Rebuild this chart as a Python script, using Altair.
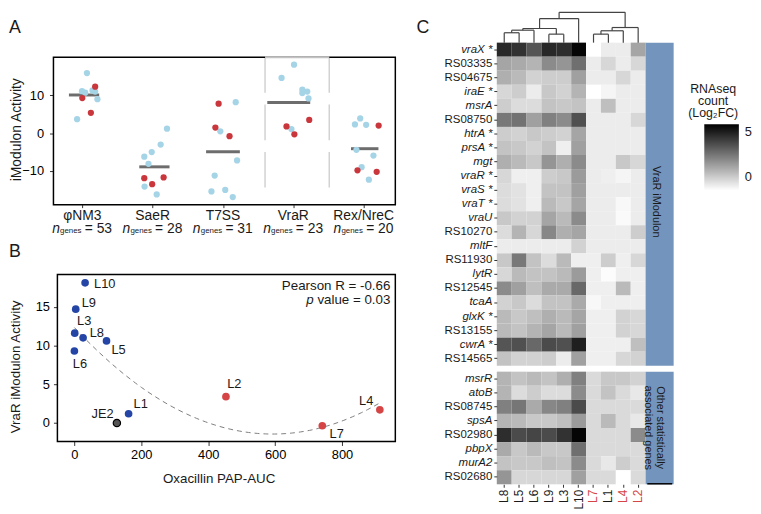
import altair as alt
import pandas as pd

FONT = "Liberation Sans"

# ---------------- Panel A data ----------------
A_CATS = ["φNM3", "SaeR", "T7SS", "VraR", "Rex/NreC"]
A_NGENES = [53, 28, 31, 23, 20]
A_MEDIAN = [10.1, -8.9, -4.9, 8.1, -4.1]
A_MED_LO = [-0.19, -0.19, -0.24, -0.37, -0.18]
A_MED_HI = [0.24, 0.24, 0.24, 0.24, 0.21]

A_PT_CAT = [0] * 10 + [1] * 10 + [2] * 10 + [3] * 10 + [4] * 10
A_PT_JIT = [
    0.066, -0.004, 0.042, 0.145, 0.183, 0.215, -0.074, 0.183, 0.0, 0.122,
    0.204, 0.114, -0.013, -0.119, -0.059, -0.115, 0.058, -0.119, 0.156, -0.007,
    0.181, -0.038, 0.2, -0.118, -0.164, 0.032, 0.139, -0.062, -0.108, 0.093,
    0.01, -0.167, 0.128, 0.198, 0.128, 0.216, -0.027, 0.226, -0.097, 0.015,
    -0.049, -0.124, 0.035, -0.103, 0.139, -0.029, 0.074, 0.213, -0.088, 0.185,
]
A_PT_VAL = [
    15.9, 11.1, 10.7, 11.3, 11.0, 9.0, 3.7, 12.3, 9.3, 5.4,
    1.2, -3.0, -5.0, -6.2, -8.1, -14.1, -16.2, -11.9, -11.7, -13.5,
    8.2, 0.5, -7.2, -11.2, -15.4, -15.0, -16.9, 7.8, 1.5, -0.8,
    18.1, 14.6, 11.5, 11.0, 10.6, 9.2, 1.1, 3.5, 1.8, -0.3,
    3.9, 2.3, 2.2, -4.4, -5.9, -9.0, -12.3, 2.0, -9.8, -10.2,
]
A_PT_GRP = (["low"] * 7 + ["high"] * 3) * 5
VRAR_BAND = [2.598, 3.511]

# ---------------- Panel B data ----------------
B_STRAINS = ["L10", "L9", "L3", "L8", "L5", "L6", "L1", "JE2", "L2", "L7", "L4"]
B_PAP = [32, 4, 1, 26, 96, 0, 162, 127, 453, 741, 913]
B_VRAR = [18.1, 14.7, 11.6, 11.0, 10.6, 9.3, 1.2, 0.0, 3.4, -0.35, 1.7]
B_GRP = ["low"] * 7 + ["ref"] + ["high"] * 3

# ---------------- Panel C data ----------------
COLS = ["L8", "L5", "L6", "L9", "L3", "L10", "L7", "L1", "L4", "L2"]
RED_COLS = ["L7", "L4", "L2"]
GENES_TOP = ["vraX *", "RS03335", "RS04675", "iraE *", "msrA", "RS08750", "htrA *",
             "prsA *", "mgt", "vraR *", "vraS *", "vraT *", "vraU", "RS10270", "mltF",
             "RS11930", "lytR", "RS12545", "tcaA", "glxK *", "RS13155", "cwrA *", "RS14565"]
VALUES_TOP = [
    [4.75, 4.45, 3.45, 4.75, 4.6, 5.75, -1.45, -0.9, -0.9, 1.15],
    [1.15, 1.0, 0.7, 1.9, 1.6, 2.7, -0.9, -0.3, -0.9, -0.3],
    [0.85, 0.55, -0.15, 0.0, 0.0, 1.3, -0.9, -0.9, -0.3, -0.9],
    [-0.3, 0.0, -0.9, 0.13, -0.15, 0.7, -1.45, -1.15, -0.9, -0.9],
    [0.0, -0.44, -0.44, 0.28, 0.13, 0.28, -0.9, 0.4, -0.9, -0.9],
    [2.45, 2.6, 1.3, 2.2, 1.9, 3.6, -0.9, -0.9, -0.9, -0.3],
    [0.0, -0.15, 0.13, 0.0, -0.15, 1.15, -0.9, -0.9, -0.9, -0.9],
    [0.28, 0.13, -0.15, 0.28, -1.0, 1.3, -0.9, -0.9, -0.9, -0.9],
    [0.85, 0.55, 0.13, 1.6, 0.85, 1.9, -0.9, -0.9, 0.13, -0.3],
    [-0.3, -1.0, -1.0, 0.0, 0.13, 1.43, -0.9, -1.0, -1.15, -0.9],
    [-0.44, -0.6, -1.0, 0.28, 0.28, 1.3, -0.9, -0.9, -0.9, -0.9],
    [-0.44, -0.6, -1.0, 0.55, 0.13, 1.15, -0.9, -0.9, -1.25, -0.9],
    [0.13, -0.15, -0.15, 1.15, 0.55, 1.9, -0.9, -0.9, -1.3, -0.9],
    [-0.44, 0.7, -0.3, 2.0, 0.85, 1.15, -0.9, -0.9, -0.9, 0.0],
    [-0.9, -0.9, -0.9, -0.9, -0.9, -0.15, -0.9, -0.9, -0.9, -0.9],
    [0.13, 2.45, 0.28, -0.44, 0.55, -1.0, -1.0, 0.0, -1.0, -0.3],
    [-0.3, 0.55, 0.28, 0.28, 0.55, 1.43, -1.0, -1.36, -1.0, -1.0],
    [1.9, 1.3, 0.4, 1.0, 1.0, 2.9, -1.0, -1.0, 0.55, -1.0],
    [-0.15, 0.13, -0.44, 0.28, 0.28, 1.0, -1.25, -1.0, -1.0, -1.0],
    [0.55, 0.13, 0.4, 0.85, 0.55, 1.15, -1.0, -1.0, -0.15, -0.3],
    [0.55, 0.28, 0.7, 1.15, 0.55, 1.3, -1.0, -1.0, -0.15, -0.3],
    [3.45, 3.6, 2.9, 3.75, 3.6, 5.0, -1.0, -1.0, -1.0, 0.4],
    [0.28, -0.15, -0.15, 0.0, -0.9, 1.3, -1.0, -1.0, -0.3, -0.15],
]
GENES_BOT = ["msrR", "atoB", "RS08745", "spsA", "RS02980", "pbpX", "murA2", "RS02680"]
VALUES_BOT = [
    [0.7, 0.28, 0.55, 0.28, 0.85, 2.2, -0.38, 0.13, 0.13, -0.15],
    [0.7, -0.44, 0.0, -0.44, -0.44, 1.9, -0.38, 0.28, -0.38, -0.8],
    [2.2, 2.5, 1.0, 2.0, 2.2, 3.75, -0.38, -0.38, -0.38, -0.38],
    [0.7, 0.55, 0.13, 0.13, 0.4, 1.43, -0.38, 0.55, -0.38, -0.8],
    [4.6, 3.75, 3.9, 3.75, 4.45, 5.75, -0.38, -0.38, -0.38, 1.9],
    [1.0, 0.13, 0.55, 0.13, 0.13, 2.7, -0.38, -0.38, -0.38, -0.38],
    [0.28, 0.13, 0.13, 0.4, 0.28, 1.9, -0.38, -0.8, 0.0, -0.38],
    [1.6, -0.3, -0.3, -0.3, -0.3, 1.3, -0.38, -0.38, -1.45, -0.38],
]
# dendrogram merges: (node, left, right, height)
MERGES = [("a", "L8", "L5", 10.0), ("b", "L9", "L3", 8.6), ("c", "a", "L6", 12.6),
          ("d", "c", "b", 14.3), ("e", "d", "L10", 24.3), ("r1", "L7", "L1", 8.6),
          ("r2", "r1", "L4", 12.0), ("r3", "r2", "L2", 15.3), ("root", "e", "r3", 30.7)]

# ---------------- styles ----------------
A_BLUE, A_RED = "#a6d4e7", "#c9373d"
B_BLUE, B_RED, B_GRAY = "#2445a5", "#d64545", "#555555"
BAR_BLUE = "#7395bd"
TXT = "#1a1a1a"
ONE = pd.DataFrame({"k": [0]})


def label(text, x, y, **mk):
    base = dict(fontSize=13, align="center", baseline="middle", color=TXT)
    base.update(mk)
    return alt.Chart(ONE).mark_text(**base).encode(
        x=alt.value(x), y=alt.value(y), text=alt.value(text))


def anchor(x1, x2, y):
    return alt.Chart(ONE).mark_rule(strokeOpacity=0).encode(
        x=alt.value(x1), x2=alt.value(x2), y=alt.value(y))


# ================= Panel A =================
dfA = pd.DataFrame({"cat": A_PT_CAT, "jit": A_PT_JIT, "val": A_PT_VAL, "grp": A_PT_GRP})
dfA["xpos"] = dfA["cat"] + dfA["jit"]
dfA["ord"] = (dfA["grp"] == "high").astype(int)
dfAc = pd.DataFrame({"idx": list(range(5)), "name": A_CATS, "med": A_MEDIAN,
                     "lo": A_MED_LO, "hi": A_MED_HI,
                     "neq": [f"= {n}" for n in A_NGENES]})
dfAc["x1"] = dfAc["idx"] + dfAc["lo"]
dfAc["x2"] = dfAc["idx"] + dfAc["hi"]
dfHL = pd.DataFrame({"hx": VRAR_BAND, "hy1": [20.1, 20.1], "hy2": [-17.2, -17.2]})
dfTop = pd.DataFrame({"tx1": [VRAR_BAND[0]], "tx2": [VRAR_BAND[1]], "ty": [20.1]})

xA = alt.Scale(domain=[-0.41, 4.45], nice=False, zero=False)
yA = alt.Scale(domain=[-18.9, 20.1], range=[164, 14.7], nice=False, zero=False)
axAx = alt.Axis(values=[0, 1, 2, 3, 4], labels=False, tickSize=3, domain=False,
                grid=False, title=None, tickColor="#333")
axAy = alt.Axis(values=[-10, 0, 10], tickSize=4, labelPadding=6, domain=False,
                grid=False, title=None, labelFontSize=13, tickColor="#333")


def XA(f):
    return alt.X(f, type="quantitative", scale=xA, axis=axAx)


def YA(f):
    return alt.Y(f, type="quantitative", scale=yA, axis=axAy)


a_hl = alt.Chart(dfHL).mark_rule(color="#d2d2d2", strokeWidth=1.5, strokeDash=[36, 12]).encode(
    x=XA("hx"), y=YA("hy1"), y2="hy2:Q")
a_box = alt.Chart(ONE).mark_rect(fillOpacity=0, stroke="black", strokeWidth=1.5).encode(
    x=alt.value(0), x2=alt.value(346), y=alt.value(14.7), y2=alt.value(164))
a_top = alt.Chart(dfTop).mark_rule(color="#c2c2c2", strokeWidth=2).encode(
    x=XA("tx1"), x2="tx2:Q", y=YA("ty"))
a_med = alt.Chart(dfAc).mark_rule(color="#6d6d6d", strokeWidth=3).encode(
    x=XA("x1"), x2="x2:Q", y=YA("med"))
a_pts = alt.Chart(dfA).mark_circle(size=40, opacity=1).encode(
    x=XA("xpos"), y=YA("val"),
    color=alt.Color("grp:N", scale=alt.Scale(domain=["low", "high"], range=[A_BLUE, A_RED]), legend=None),
    order=alt.Order("ord:Q"))
a_cat = alt.Chart(dfAc).mark_text(fontSize=14, baseline="alphabetic", color=TXT).encode(
    x=XA("idx"), y=alt.value(180), text="name:N")
a_n = alt.Chart(dfAc).mark_text(fontSize=14, fontStyle="italic", align="left",
                                baseline="alphabetic", dx=-30.5, color=TXT).encode(
    x=XA("idx"), y=alt.value(193), text=alt.value("n"))
a_genes = alt.Chart(dfAc).mark_text(fontSize=8, align="left", baseline="alphabetic",
                                    dx=-22.5, dy=-0.5, color=TXT).encode(
    x=XA("idx"), y=alt.value(193), text=alt.value("genes"))
a_eq = alt.Chart(dfAc).mark_text(fontSize=14, align="left", baseline="alphabetic",
                                 dx=2.5, color=TXT).encode(
    x=XA("idx"), y=alt.value(193), text="neq:N")

panelA = alt.layer(
    a_hl, a_box, a_top, a_med, a_pts, a_cat, a_n, a_genes, a_eq,
    label("iModulon Activity", -37, 88.2, fontSize=14, angle=270),
    label("A", -39, -14.3, fontSize=18),
    anchor(-46, 350, 100),
).properties(width=346, height=164)

# ================= Panel B =================
dfB = pd.DataFrame({"strain": B_STRAINS, "pap": B_PAP, "act": B_VRAR, "grp": B_GRP})
xB = alt.Scale(domain=[-50.8, 959.3], range=[4, 346], nice=False, zero=False)
yB = alt.Scale(domain=[-2.39, 19.17], nice=False, zero=False)
axBx = alt.Axis(values=[0, 200, 400, 600, 800], tickSize=4, labelPadding=3, domain=False,
                grid=False, title=None, labelFontSize=13, tickColor="#333")
axBy = alt.Axis(values=[0, 5, 10, 15], tickSize=4, labelPadding=4, offset=-4, domain=False,
                grid=False, title=None, labelFontSize=13, tickColor="#333")


def XB(f):
    return alt.X(f, type="quantitative", scale=xB, axis=axBx)


def YB(f):
    return alt.Y(f, type="quantitative", scale=yB, axis=axBy)


b_box = alt.Chart(ONE).mark_rect(fillOpacity=0, stroke="black", strokeWidth=1.5).encode(
    x=alt.value(4), x2=alt.value(346), y=alt.value(0), y2=alt.value(169))
b_fit = alt.Chart(dfB).transform_regression("pap", "act", method="poly", order=2).mark_line(
    color="#7d7d7d", strokeWidth=1, strokeDash=[5, 4]).encode(x=XB("pap"), y=YB("act"))
b_pts = alt.Chart(dfB).transform_filter("datum.grp != 'ref'").mark_circle(size=60, opacity=1).encode(
    x=XB("pap"), y=YB("act"),
    color=alt.Color("grp:N", scale=alt.Scale(domain=["low", "high"], range=[B_BLUE, B_RED]), legend=None))
b_ref = alt.Chart(dfB).transform_filter("datum.grp == 'ref'").mark_circle(
    size=55, opacity=1, color=B_GRAY, stroke="black", strokeWidth=1.2).encode(x=XB("pap"), y=YB("act"))

LABEL_OFFSETS = {"L10": ("left", 9, 1.7), "L9": ("left", 6, -5.7), "L3": ("left", 2.3, -12.6),
                 "L8": ("left", 6.7, -5), "L5": ("left", 5, 9), "L6": ("left", -1.6, 13),
                 "L1": ("left", 5, -10), "JE2": ("right", -3.3, -9), "L2": ("left", 1.3, -12.3),
                 "L7": ("left", 7.3, 8.7), "L4": ("left", -21, -9)}
b_labels = []
for s, (al, ddx, ddy) in LABEL_OFFSETS.items():
    b_labels.append(
        alt.Chart(dfB).transform_filter(f"datum.strain == '{s}'").mark_text(
            fontSize=13, align=al, baseline="middle", dx=ddx, dy=ddy, color=TXT).encode(
            x=XB("pap"), y=YB("act"), text="strain:N"))

panelB = alt.layer(
    b_box, b_fit, b_pts, b_ref, *b_labels,
    label("Pearson R = -0.66", 341, 15.3, fontSize=13.5, align="right", baseline="alphabetic"),
    label(" value = 0.03", 341, 29.5, fontSize=13.5, align="right", baseline="alphabetic"),
    label("p", 263.3, 29.5, fontSize=13.5, align="right", baseline="alphabetic", fontStyle="italic"),
    label("Oxacillin PAP-AUC", 167.7, 211, fontSize=13.5, baseline="alphabetic"),
    label("VraR iModulon Activity", -37.5, 93.5, fontSize=13.5, angle=270),
    label("B", -39, -22.3, fontSize=18),
).properties(width=346, height=169)

left = alt.vconcat(panelA, panelB, spacing=70.7, bounds="flush").resolve_scale(
    x="independent", y="independent", color="independent")

# ================= Panel C =================
def long_form(genes, values):
    rows = []
    for g, vals in zip(genes, values):
        for c, v in zip(COLS, vals):
            rows.append({"gene": g, "col": c, "v": v})
    return pd.DataFrame(rows)


df_top = long_form(GENES_TOP, VALUES_TOP)
df_bot = long_form(GENES_BOT, VALUES_BOT)

pos = {c: (i + 0.5, 0.0) for i, c in enumerate(COLS)}
segs = []
for node, l, r, h in MERGES:
    xl, hl = pos[l]
    xr, hr = pos[r]
    segs += [(xl, xl, hl, h), (xr, xr, hr, h), (xl, xr, h, h)]
    pos[node] = ((xl + xr) / 2, h)
df_dendro = pd.DataFrame(segs, columns=["x1", "x2", "y1", "y2"])

color_scale = alt.Scale(domain=[-1.45, 5.9], range=["#ffffff", "#000000"], interpolate="rgb")
xcol = alt.Scale(domain=COLS, paddingInner=0, paddingOuter=0)
italic_test = "indexof(datum.value, 'RS') == 0"


def gene_axis():
    return alt.Axis(tickSize=3, labelPadding=2, domain=False, title=None, labelFontSize=11.6,
                    labelColor=TXT, tickColor="#333",
                    labelFontStyle=alt.condition(italic_test, alt.value("normal"), alt.value("italic")))


heat_t = alt.Chart(df_top).mark_rect().encode(
    x=alt.X("col:N", scale=xcol, axis=None),
    y=alt.Y("gene:N", scale=alt.Scale(domain=GENES_TOP, paddingInner=0, paddingOuter=0), axis=gene_axis()),
    color=alt.Color("v:Q", scale=color_scale, legend=alt.Legend(
        orient="none", legendX=210, legendY=82.5, title=None, direction="vertical",
        gradientLength=67, gradientThickness=35, values=[0, 5], labelFontSize=13,
        labelOffset=6, padding=0, gradientStrokeWidth=0, labelColor=TXT)))
dendro = alt.Chart(df_dendro).mark_rule(color="#444444", strokeWidth=1.2).encode(
    x=alt.X("x1:Q", scale=alt.Scale(domain=[0, 10], nice=False, zero=False), axis=None),
    x2="x2:Q",
    y=alt.Y("y1:Q", scale=alt.Scale(domain=[0, 30.7], range=[0, -30.7], nice=False, zero=False), axis=None),
    y2="y2:Q")
bar_t = alt.Chart(ONE).mark_rect(color=BAR_BLUE).encode(
    x=alt.value(150.6), x2=alt.value(179), y=alt.value(0), y2=alt.value(327))

heat_top = alt.layer(
    heat_t, dendro, bar_t,
    label("VraR iModulon", 161.5, 161, fontSize=11, angle=90),
    label(["RNAseq", "count", "(Log₂FC)"], 219, 51.4, fontSize=12.5, baseline="alphabetic", lineHeight=11.8),
    label("C", -74.7, -14.3, fontSize=18),
    anchor(-90, -89, 100),
).resolve_scale(x="independent", y="independent").properties(width=150.6, height=327)

heat_b = alt.Chart(df_bot).mark_rect().encode(
    x=alt.X("col:N", scale=xcol, axis=alt.Axis(
        labelAngle=270, labelFontSize=12, tickSize=3, labelPadding=2, domain=False, title=None,
        tickColor="#333",
        labelColor=alt.condition("indexof(['L7','L4','L2'], datum.value) >= 0",
                                 alt.value("#d64545"), alt.value(TXT)))),
    y=alt.Y("gene:N", scale=alt.Scale(domain=GENES_BOT, paddingInner=0, paddingOuter=0), axis=gene_axis()),
    color=alt.Color("v:Q", scale=color_scale, legend=None))
bar_b = alt.Chart(ONE).mark_rect(color=BAR_BLUE).encode(
    x=alt.value(150.6), x2=alt.value(179), y=alt.value(0), y2=alt.value(114))
bar_line = alt.Chart(ONE).mark_rule(color="black", strokeWidth=1.5).encode(
    x=alt.value(152.3), x2=alt.value(177.5), y=alt.value(113.5))

heat_bottom = alt.layer(
    heat_b, bar_b, bar_line,
    label(["Other statistically", "associated genes"], 164.7, 56.7, fontSize=11, angle=90, lineHeight=11.3),
).properties(width=150.6, height=114)

right = alt.vconcat(heat_top, heat_bottom, spacing=6, bounds="flush").resolve_scale(
    x="independent", y="independent", color="independent")

chart = alt.hconcat(left, right, spacing=8.7).resolve_scale(
    x="independent", y="independent", color="independent"
).properties(padding=0).configure(font=FONT).configure_view(stroke=None).configure_axis(
    grid=False, labelFont=FONT)

chart.save("out.html", embed_options={"renderer": "svg", "actions": False})
